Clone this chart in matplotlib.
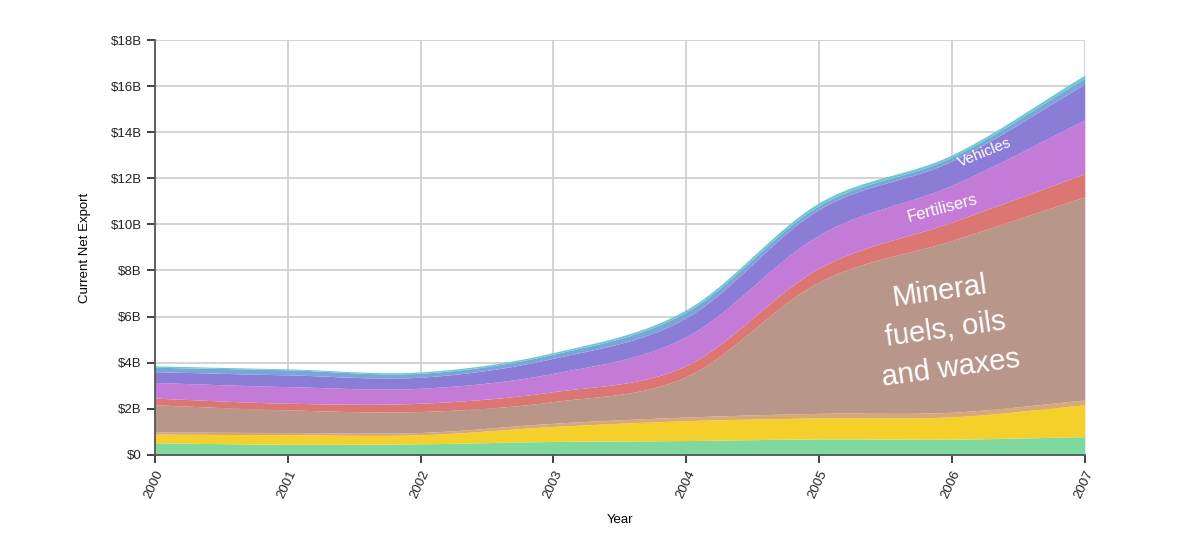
import numpy as np
import matplotlib
matplotlib.use("Agg")
import matplotlib.pyplot as plt

plt.rcParams['font.family'] = ['Liberation Sans', 'DejaVu Sans']

# data, billions of dollars per product group
years = [2000, 2001, 2002, 2003, 2004, 2005, 2006, 2007]
vegetables = [0.52, 0.46, 0.48, 0.58, 0.62, 0.69, 0.68, 0.79]
foodstuffs = [0.38, 0.41, 0.39, 0.65, 0.86, 0.91, 0.97, 1.38]
mineral_products = [0.09, 0.10, 0.10, 0.14, 0.16, 0.20, 0.20, 0.21]
mineral_fuels = [1.18, 0.98, 0.91, 0.94, 1.76, 5.70, 7.45, 8.82]
chemicals = [0.29, 0.29, 0.36, 0.43, 0.48, 0.60, 0.80, 1.00]
fertilisers = [0.68, 0.72, 0.65, 0.80, 1.25, 1.44, 1.60, 2.33]
vehicles = [0.47, 0.51, 0.48, 0.65, 0.82, 1.11, 1.05, 1.56]
machinery = [0.19, 0.22, 0.17, 0.18, 0.25, 0.17, 0.17, 0.26]
other = [0.06, 0.04, 0.06, 0.07, 0.10, 0.12, 0.10, 0.13]

layers = [vegetables, foodstuffs, mineral_products, mineral_fuels, chemicals,
          fertilisers, vehicles, machinery, other]
colors = ['#7dd9a0', '#f5d02b', '#d9a877', '#b89689', '#dc7672',
          '#c47ad7', '#8b7cd6', '#78a6d9', '#6ccaca']


def catmull(x, y, xs):
    # catmull-rom curve through the points (evenly spaced years)
    x = np.asarray(x, float)
    y = np.asarray(y, float)
    h = np.diff(x)
    m = np.zeros_like(y)
    m[1:-1] = (y[2:] - y[:-2]) / (x[2:] - x[:-2])
    m[0] = (y[1] - y[0]) / h[0]
    m[-1] = (y[-1] - y[-2]) / h[-1]
    idx = np.clip(np.searchsorted(x, xs) - 1, 0, len(x) - 2)
    t = (xs - x[idx]) / h[idx]
    h00 = 2 * t**3 - 3 * t**2 + 1
    h10 = t**3 - 2 * t**2 + t
    h01 = -2 * t**3 + 3 * t**2
    h11 = t**3 - t**2
    return (h00 * y[idx] + h10 * h[idx] * m[idx]
            + h01 * y[idx + 1] + h11 * h[idx] * m[idx + 1])


fig = plt.figure(figsize=(12, 5.37), dpi=100)
ax = fig.add_axes([0.129, 0.153, 0.775, 0.7725])

xs = np.linspace(years[0], years[-1], 600)
cum = np.cumsum(np.array(layers), axis=0)
lower = np.zeros_like(xs)
for top, c in zip(cum, colors):
    upper = np.maximum(catmull(years, top, xs), lower)
    ax.fill_between(xs, lower, upper, color=c, lw=0, zorder=2)
    lower = upper

ax.set_xlim(years[0], years[-1])
ax.set_ylim(0, 18)
ax.set_xticks(years)
ax.set_xticklabels([str(y) for y in years], rotation=65, ha='right',
                   va='top', rotation_mode='anchor', fontsize=9.5)
ax.set_yticks(np.arange(0, 19, 2))
ax.set_yticklabels(['$0'] + ['$%dB' % v for v in range(2, 19, 2)], fontsize=9.5)
ax.grid(True, color='#cccccc', lw=1.2, zorder=0)
ax.set_axisbelow(True)
for s in ['top', 'right']:
    ax.spines[s].set_visible(False)
for s in ['left', 'bottom']:
    ax.spines[s].set_color('#555555')
    ax.spines[s].set_linewidth(1.3)
    ax.spines[s].set_zorder(3)
ax.tick_params(direction='out', length=6, width=1.2, color='#222222',
               labelcolor='#222222')
ax.set_xlabel('Year', fontsize=9.5, labelpad=10)
ax.set_ylabel('Current Net Export', fontsize=9.5, labelpad=14)

ax.text(2006.25, 13.12, 'Vehicles', color='white', fontsize=11,
        rotation=22, ha='center', va='center', zorder=4)
ax.text(2005.93, 10.7, 'Fertilisers', color='white', fontsize=12,
        rotation=15, ha='center', va='center', zorder=4)
ax.text(2005.95, 5.42, 'Mineral\nfuels, oils\nand waxes', color='white',
        fontsize=21, rotation=8, ha='center', va='center',
        linespacing=1.5, zorder=4)

fig.savefig('out.png', dpi=100)
